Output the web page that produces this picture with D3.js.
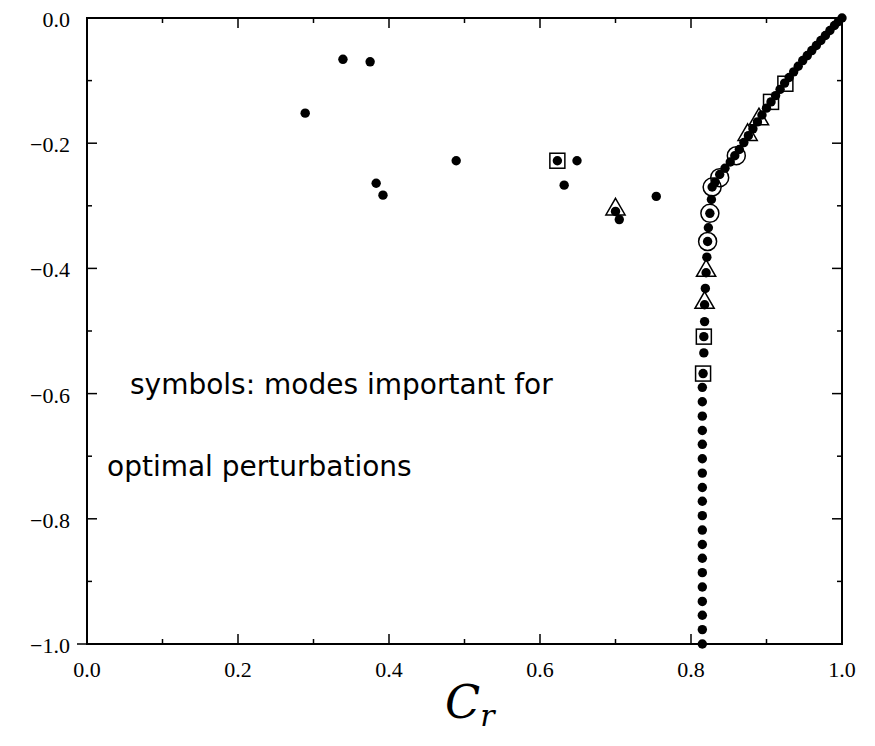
<!DOCTYPE html>
<html>
<head>
<meta charset="utf-8">
<script src="https://d3js.org/d3.v7.min.js"></script>
<style>
  body { margin: 0; background: #fff; }
</style>
</head>
<body>
<div id="chart"></div>
<script>
// plain eigenvalues (filled dots): scattered modes
const looseC = [0.289, 0.339, 0.375, 0.383, 0.392, 0.489, 0.623, 0.632, 0.649, 0.700, 0.705, 0.754];
const looseV = [-0.152, -0.066, -0.070, -0.264, -0.283, -0.228, -0.228, -0.267, -0.228, -0.309, -0.322, -0.285];
// vertical branch
const wallC = [0.828, 0.827, 0.825, 0.823, 0.822, 0.821, 0.820, 0.819, 0.818, 0.818, 0.817, 0.817, 0.816,
    0.815, 0.815, 0.815, 0.815, 0.815, 0.815, 0.815, 0.815, 0.815, 0.815, 0.815, 0.815, 0.815,
    0.815, 0.815, 0.815, 0.815, 0.815, 0.815];
const wallV = [-0.27, -0.29, -0.312, -0.335, -0.357, -0.382, -0.407, -0.432, -0.458, -0.485, -0.509, -0.535, -0.568,
    -0.59, -0.613, -0.636, -0.659, -0.681, -0.704, -0.727, -0.75, -0.772, -0.795, -0.818, -0.841,
    -0.863, -0.886, -0.909, -0.932, -0.954, -0.977, -1.0];
// diagonal branch
const diagC = [0.832, 0.838, 0.845, 0.852, 0.858, 0.864, 0.870, 0.876, 0.882, 0.888, 0.894, 0.900, 0.906,
    0.912, 0.918, 0.924, 0.930, 0.936, 0.942, 0.948, 0.954, 0.960, 0.966, 0.972, 0.978, 0.984, 0.990, 0.995, 1.0];
const diagV = [-0.262, -0.25, -0.24, -0.23, -0.22, -0.21, -0.199, -0.188, -0.177, -0.166, -0.155, -0.144, -0.134,
    -0.124, -0.114, -0.104, -0.095, -0.086, -0.077, -0.068, -0.06, -0.052, -0.044, -0.036, -0.028, -0.02, -0.012, -0.006, 0.0];

// symbols: modes important for optimal perturbations
const circC = [0.825, 0.822, 0.828, 0.838, 0.86];
const circV = [-0.312, -0.357, -0.27, -0.255, -0.22];
const triC = [0.70, 0.820, 0.818, 0.875, 0.89];
const triV = [-0.309, -0.407, -0.458, -0.19, -0.165];
const sqC = [0.623, 0.817, 0.816, 0.906, 0.925];
const sqV = [-0.228, -0.509, -0.568, -0.134, -0.105];

const xTicks = [0.0, 0.2, 0.4, 0.6, 0.8, 1.0];
const yTicks = [0.0, -0.2, -0.4, -0.6, -0.8, -1.0];

const W = 875, H = 746;
const pLeft = 87, pRight = 842, pTop = 18, pBottom = 644;

const svg = d3.select('#chart').append('svg')
    .attr('width', W).attr('height', H);

const x = d3.scaleLinear().domain([0, 1]).range([pLeft, pRight]);
const y = d3.scaleLinear().domain([-1, 0]).range([pBottom, pTop]);

const minorX = d3.range(0, 1.0001, 0.1);
const minorY = d3.range(-1, 0.0001, 0.1);

// ticks inside the frame on all four sides
const tk = svg.append('g').attr('stroke', '#000').attr('stroke-width', 1.5);
minorX.forEach((v, i) => {
    const len = i % 2 === 0 ? 10 : 5;
    tk.append('line').attr('x1', x(v)).attr('x2', x(v)).attr('y1', pBottom).attr('y2', pBottom - len);
    tk.append('line').attr('x1', x(v)).attr('x2', x(v)).attr('y1', pTop).attr('y2', pTop + len);
});
minorY.forEach((v, i) => {
    const len = i % 2 === 0 ? 10 : 5;
    tk.append('line').attr('y1', y(v)).attr('y2', y(v)).attr('x1', pLeft).attr('x2', pLeft + len);
    tk.append('line').attr('y1', y(v)).attr('y2', y(v)).attr('x1', pRight).attr('x2', pRight - len);
});
tk.append('line').attr('x1', pLeft - 10).attr('x2', pLeft).attr('y1', pBottom).attr('y2', pBottom);

svg.append('rect')
    .attr('x', pLeft).attr('y', pTop)
    .attr('width', pRight - pLeft).attr('height', pBottom - pTop)
    .attr('fill', 'none').attr('stroke', '#000').attr('stroke-width', 2);

const fmt = d => d3.format('.1f')(d).replace('-', '\u2212');
svg.append('g').selectAll('text').data(xTicks).join('text')
    .attr('x', d => x(d)).attr('y', pBottom + 33)
    .attr('text-anchor', 'middle')
    .attr('font-family', 'Liberation Serif, Times New Roman, serif')
    .attr('font-size', 22)
    .text(fmt);
svg.append('g').selectAll('text').data(yTicks).join('text')
    .attr('x', pLeft - 17).attr('y', d => y(d) + 9)
    .attr('text-anchor', 'end')
    .attr('font-family', 'Liberation Serif, Times New Roman, serif')
    .attr('font-size', 22)
    .text(fmt);

// axis label
const lab = svg.append('text')
    .attr('x', 445).attr('y', 718)
    .attr('font-family', 'DejaVu Serif, Liberation Serif, serif')
    .attr('font-style', 'italic')
    .attr('font-size', 46);
lab.append('tspan').text('C');
lab.append('tspan').attr('font-size', 30).attr('dy', 8).text('r');

// annotation
svg.append('text')
    .attr('x', 130).attr('y', 394)
    .attr('font-family', 'DejaVu Sans, sans-serif')
    .attr('font-size', 28)
    .text('symbols: modes important for');
svg.append('text')
    .attr('x', 107).attr('y', 476)
    .attr('font-family', 'DejaVu Sans, sans-serif')
    .attr('font-size', 28)
    .text('optimal perturbations');

const marks = svg.append('g');

marks.selectAll('rect.sq').data(d3.range(sqC.length)).join('rect')
    .attr('class', 'sq')
    .attr('x', i => x(sqC[i]) - 7.5).attr('y', i => y(sqV[i]) - 7.5)
    .attr('width', 15).attr('height', 15)
    .attr('fill', 'none').attr('stroke', '#000').attr('stroke-width', 1.5);

marks.selectAll('circle.ring').data(d3.range(circC.length)).join('circle')
    .attr('class', 'ring')
    .attr('cx', i => x(circC[i])).attr('cy', i => y(circV[i]))
    .attr('r', 9)
    .attr('fill', 'none').attr('stroke', '#000').attr('stroke-width', 1.5);

const tri = d3.symbol().type(d3.symbolTriangle).size(160);
marks.selectAll('path.tri').data(d3.range(triC.length)).join('path')
    .attr('class', 'tri')
    .attr('d', tri)
    .attr('transform', i => `translate(${x(triC[i])},${y(triV[i]) - 2})`)
    .attr('fill', 'none').attr('stroke', '#000').attr('stroke-width', 1.5);

const dotsC = looseC.concat(wallC, diagC);
const dotsV = looseV.concat(wallV, diagV);
marks.selectAll('circle.dot').data(d3.range(dotsC.length)).join('circle')
    .attr('class', 'dot')
    .attr('cx', i => x(dotsC[i])).attr('cy', i => y(dotsV[i]))
    .attr('r', 4.7)
    .attr('fill', '#000');
</script>
</body>
</html>
